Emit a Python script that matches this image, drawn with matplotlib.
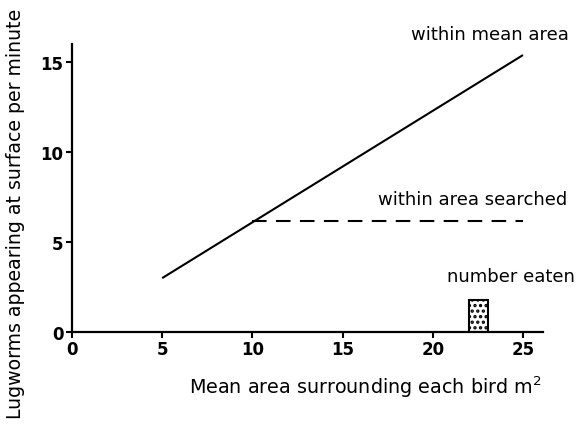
"""
Lugworms appearing at the surface per minute vs mean area surrounding each bird.
"""
import matplotlib.pyplot as plt

# data
mean_area_x = [5, 25]
mean_area_y = [3.0, 15.4]
searched_x = [10, 25]
searched_y = [6.2, 6.2]
eaten_x = [22.55]
eaten_width = [1.05]
eaten_y = [1.8]
xticks = [0, 5, 10, 15, 20, 25]
yticks = [0, 5, 10, 15]

plt.rcParams["font.family"] = ["DejaVu Sans"]
plt.rcParams["hatch.linewidth"] = 1.6

fig = plt.figure(figsize=(5.82, 4.27), dpi=100)
ax = fig.add_axes([0.1237, 0.220, 0.809, 0.674])

ax.plot(mean_area_x, mean_area_y, color="black", lw=1.5, solid_capstyle="butt")
ax.plot(searched_x, searched_y, color="black", lw=1.5, dashes=(7, 4.5))
ax.bar(eaten_x, eaten_y, width=eaten_width, facecolor="white", edgecolor="black",
       lw=1.5, hatch="...")

ax.text(18.8, 16.55, "within mean area", ha="left", va="center", fontsize=13,
        clip_on=False)
ax.text(16.95, 7.4, "within area searched", ha="left", va="center", fontsize=13,
        clip_on=False)
ax.text(20.8, 3.1, "number eaten", ha="left", va="center", fontsize=13,
        clip_on=False)

ax.set_xlim(0, 26.1)
ax.set_ylim(0, 16)
ax.set_xticks(xticks)
ax.set_yticks(yticks)
for lab in ax.get_xticklabels() + ax.get_yticklabels():
    lab.set_fontweight("bold")
    lab.set_fontsize(12)
ax.tick_params(axis="both", length=4, width=1.5, pad=2)
for side in ("top", "right"):
    ax.spines[side].set_visible(False)
for side in ("left", "bottom"):
    ax.spines[side].set_linewidth(1.6)

ax.set_xlabel("Mean area surrounding each bird m$^2$", fontsize=13.8, labelpad=11,
              x=0.622)
fig.text(0.026, 0.50, "Lugworms appearing at surface per minute", rotation=90,
         ha="center", va="center", fontsize=13.6)

fig.savefig("out.png", dpi=100)
